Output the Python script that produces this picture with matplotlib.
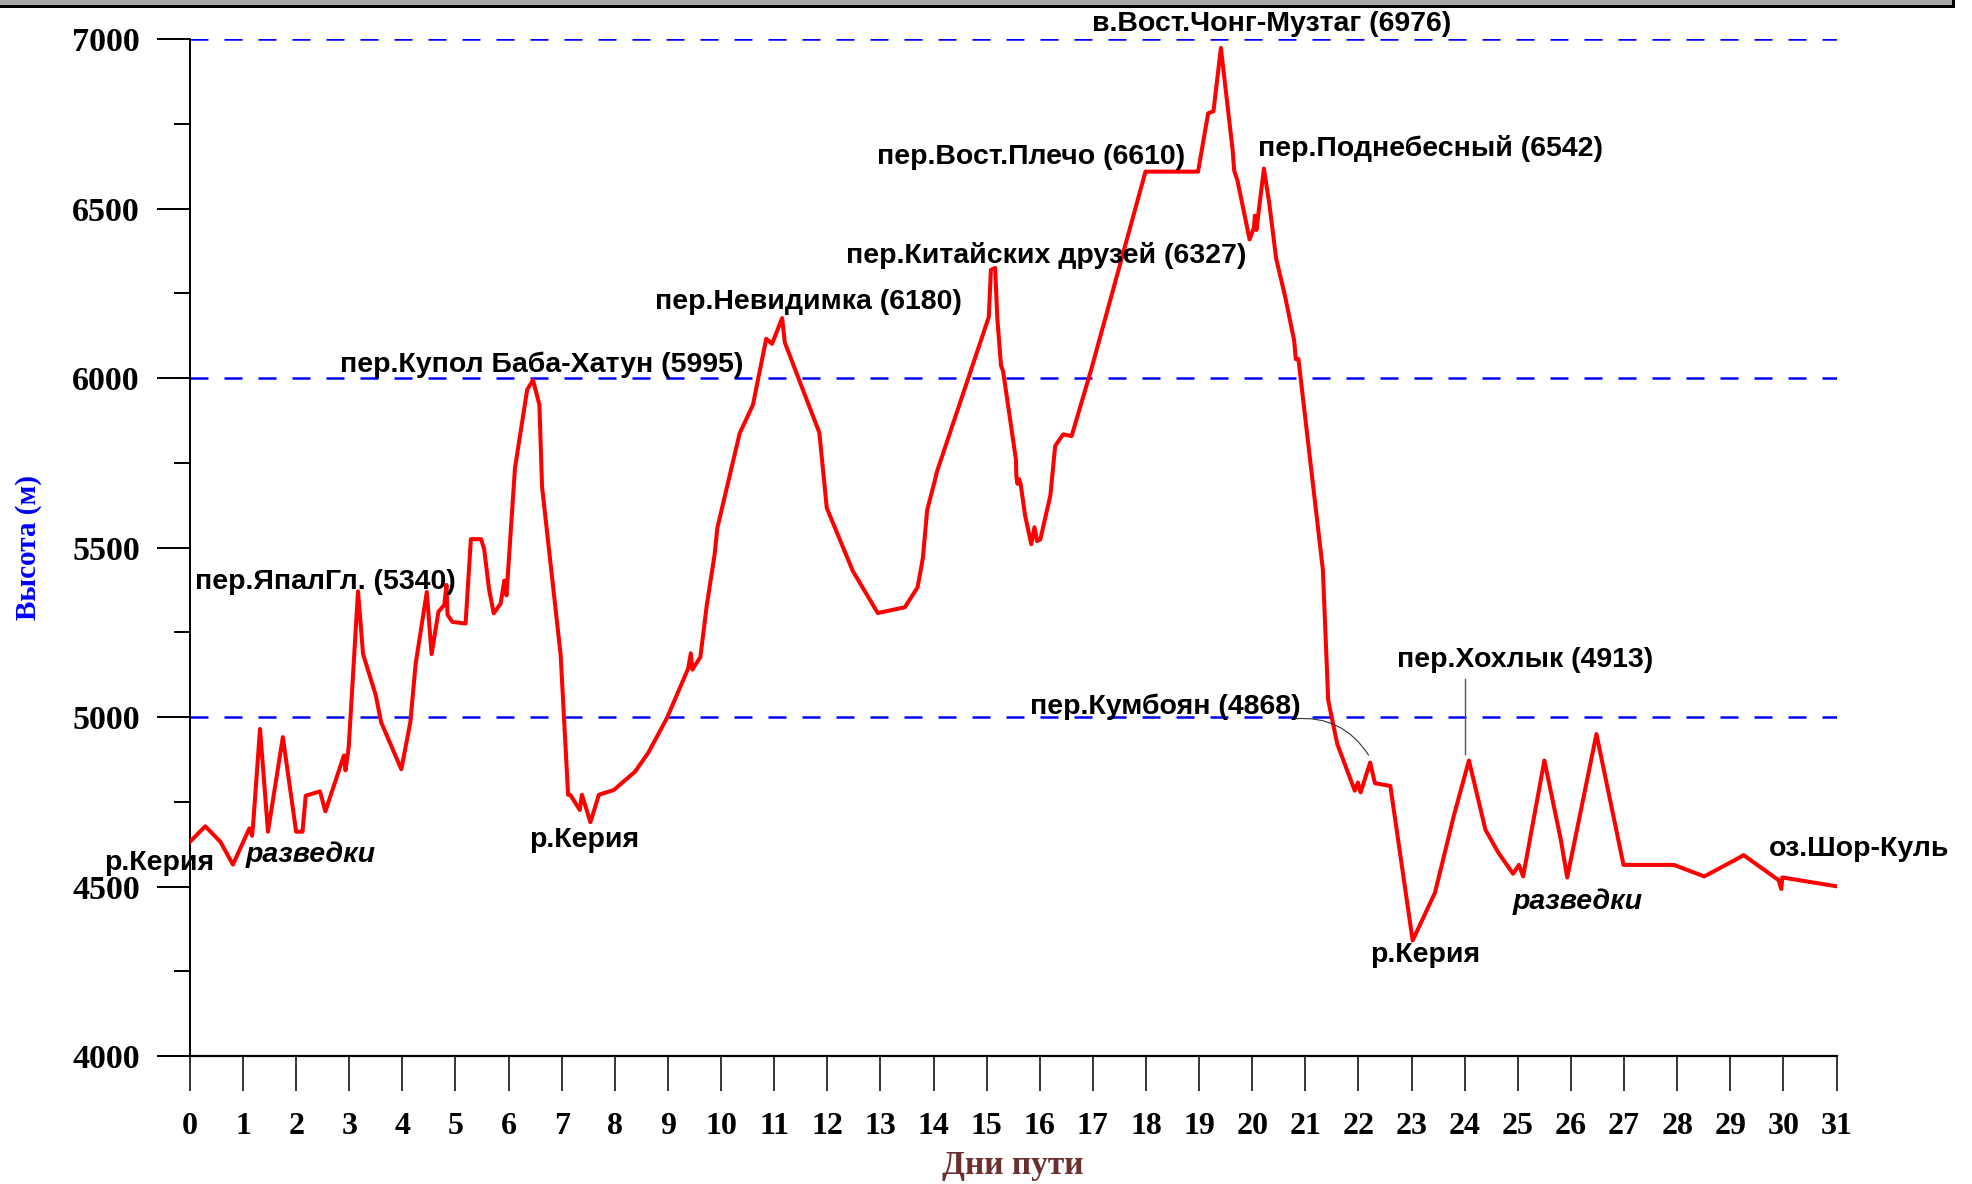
import matplotlib.pyplot as plt
from matplotlib.patches import Rectangle
from matplotlib.ticker import MultipleLocator

# route profile: day of travel vs altitude (m)
days = [0, 0.29, 0.575, 0.81, 1.12, 1.17, 1.19, 1.32, 1.47, 1.75, 2.0, 2.12, 2.18, 2.45, 2.55,
        2.90, 2.93, 2.99, 3.165, 3.26, 3.50, 3.60, 3.98, 4.15, 4.25, 4.46, 4.55, 4.68, 4.79,
        4.83, 4.85, 4.94, 5.19, 5.29, 5.48, 5.54, 5.63, 5.72, 5.85, 5.92, 5.96, 6.12, 6.35,
        6.46, 6.58, 6.63, 6.98, 7.12, 7.16, 7.34, 7.38, 7.54, 7.70, 7.98, 8.38, 8.63, 8.98,
        9.38, 9.43, 9.46, 9.61, 9.73, 9.88, 9.93, 10.35, 10.60, 10.85, 10.96, 11.15, 11.20,
        11.85, 11.99, 12.48, 12.95, 13.46, 13.70, 13.80, 13.88, 14.02, 14.06, 15.04, 15.08,
        15.16, 15.20, 15.27, 15.31, 15.55, 15.56, 15.58, 15.61, 15.64, 15.72, 15.73, 15.84,
        15.90, 15.95, 16.01, 16.20, 16.29, 16.44, 16.60, 16.97, 17.99, 18.98, 19.17, 19.27,
        19.41, 19.63, 19.66, 19.72, 19.95, 20.03, 20.05, 20.08, 20.11, 20.22, 20.32, 20.45,
        20.62, 20.79, 20.82, 20.87, 21.33, 21.43, 21.60, 21.93, 21.99, 22.04, 22.22, 22.31,
        22.60, 23.02, 23.44, 23.80, 24.08, 24.39, 24.63, 24.91, 25.02, 25.10, 25.50, 25.81,
        25.93, 26.48, 26.99, 27.94, 28.51, 29.13, 29.25, 29.91, 29.96, 29.98, 31.0]
alt = [4632, 4678, 4632, 4565, 4672, 4650, 4682, 4965, 4662, 4941, 4662, 4662, 4768, 4781, 4722,
       4887, 4843, 4912, 5371, 5186, 5064, 4985, 4846, 4985, 5157, 5369, 5186, 5311, 5331,
       5390, 5302, 5281, 5276, 5525, 5525, 5496, 5379, 5306, 5335, 5403, 5359, 5735, 5966,
       5994, 5921, 5679, 5183, 4771, 4771, 4726, 4771, 4690, 4771, 4785, 4839, 4895, 4997,
       5143, 5188, 5140, 5177, 5329, 5481, 5558, 5837, 5921, 6116, 6101, 6177, 6105,
       5839, 5617, 5431, 5307, 5324, 5383, 5470, 5611, 5695, 5722, 6180, 6319,
       6325, 6178, 6037, 6020, 5761, 5710, 5688, 5702, 5688, 5598, 5590, 5510,
       5560, 5519, 5524, 5654, 5800, 5834, 5829, 6026, 6609, 6609, 6781, 6787,
       6974, 6674, 6612, 6584, 6409, 6443, 6479, 6437, 6477, 6618, 6516, 6353,
       6240, 6110, 6056, 6056, 5434, 5050, 4921, 4783, 4807, 4778, 4866, 4805,
       4797, 4341, 4482, 4712, 4872, 4668, 4601, 4538, 4564, 4530, 4872, 4638,
       4527, 4950, 4564, 4564, 4530, 4582, 4593, 4519, 4493, 4527, 4501]

# labels: text, day, altitude, italic
labels = [
    ("р.Керия", -1.61, 4571, False),
    ("разведки", 1.04, 4594, True),
    ("пер.ЯпалГл. (5340)", 0.09, 5398, False),
    ("р.Керия", 6.38, 4638, False),
    ("пер.Купол Баба-Хатун (5995)", 2.82, 6040, False),
    ("пер.Невидимка (6180)", 8.75, 6225, False),
    ("пер.Китайских друзей (6327)", 12.35, 6362, False),
    ("пер.Вост.Плечо (6610)", 12.94, 6651, False),
    ("в.Вост.Чонг-Музтаг (6976)", 16.99, 7044, False),
    ("пер.Поднебесный (6542)", 20.10, 6677, False),
    ("пер.Кумбоян (4868)", 15.81, 5031, False),
    ("пер.Хохлык (4913)", 22.73, 5168, False),
    ("р.Керия", 22.21, 4297, False),
    ("разведки", 24.91, 4456, True),
    ("оз.Шор-Куль", 29.72, 4612, False),
]

ref_levels = [5000, 6000, 7000]

fig = plt.figure(figsize=(19.72, 11.84), dpi=100)
ax = fig.add_axes([0.0963, 0.108, 0.835, 0.859])

# window-like frame strip at the top
fig.patches.append(Rectangle((0, 1 - 5 / 1184), 1952 / 1972, 5 / 1184,
                             transform=fig.transFigure, facecolor='#a8a8a8', edgecolor='none'))
fig.patches.append(Rectangle((0, 1 - 8 / 1184), 1955 / 1972, 3 / 1184,
                             transform=fig.transFigure, facecolor='black', edgecolor='none'))
fig.patches.append(Rectangle((1952 / 1972, 1 - 8 / 1184), 3 / 1972, 8 / 1184,
                             transform=fig.transFigure, facecolor='black', edgecolor='none'))

for lvl in ref_levels:
    ax.axhline(lvl, color='#0000ff', lw=1.8, dashes=(7.2, 6.4), zorder=1)

ax.plot(days, alt, color='#ff0000', lw=2.9, zorder=3)

ax.set_xlim(0, 31)
ax.set_ylim(4000, 7000)
ax.spines['top'].set_visible(False)
ax.spines['right'].set_visible(False)
ax.spines['left'].set_linewidth(1.4)
ax.spines['bottom'].set_linewidth(1.6)

ax.xaxis.set_major_locator(MultipleLocator(1))
ax.yaxis.set_major_locator(MultipleLocator(500))
ax.yaxis.set_minor_locator(MultipleLocator(250))
ax.tick_params(axis='x', which='major', direction='out', length=25, width=1.1, pad=15.5)
ax.tick_params(axis='y', which='major', direction='out', length=24, width=1.4, pad=12)
ax.tick_params(axis='y', which='minor', direction='out', length=11.5, width=1.4)
for t in ax.get_xticklabels():
    t.set_fontfamily('Liberation Serif')
    t.set_fontweight('bold')
    t.set_fontsize(23)
for t in ax.get_yticklabels():
    t.set_fontfamily('Liberation Serif')
    t.set_fontweight('bold')
    t.set_fontsize(24.5)

ax.set_xlabel("Дни пути", family='Liberation Serif', fontweight='bold', fontsize=24,
              color='#6b2f2f', labelpad=6)
ax.set_ylabel("Высота (м)", family='Liberation Serif', fontweight='bold', fontsize=21,
              color='#0000ff', labelpad=22)

for text, x, y, it in labels:
    ax.text(x, y, text, ha='left', va='center', fontsize=20.5, fontweight='bold',
            style='italic' if it else 'normal', family='Liberation Sans', clip_on=False, zorder=4)

# leader lines
ax.annotate("", xy=(22.19, 4888), xytext=(20.8, 4995),
            arrowprops=dict(arrowstyle='-', color='#333333', lw=0.8,
                            connectionstyle='arc3,rad=-0.3', shrinkA=0, shrinkB=0))
ax.plot([24.0, 24.0], [4890, 5113], color='#555555', lw=1.0, zorder=2)

fig.savefig("out.png", dpi=100)
